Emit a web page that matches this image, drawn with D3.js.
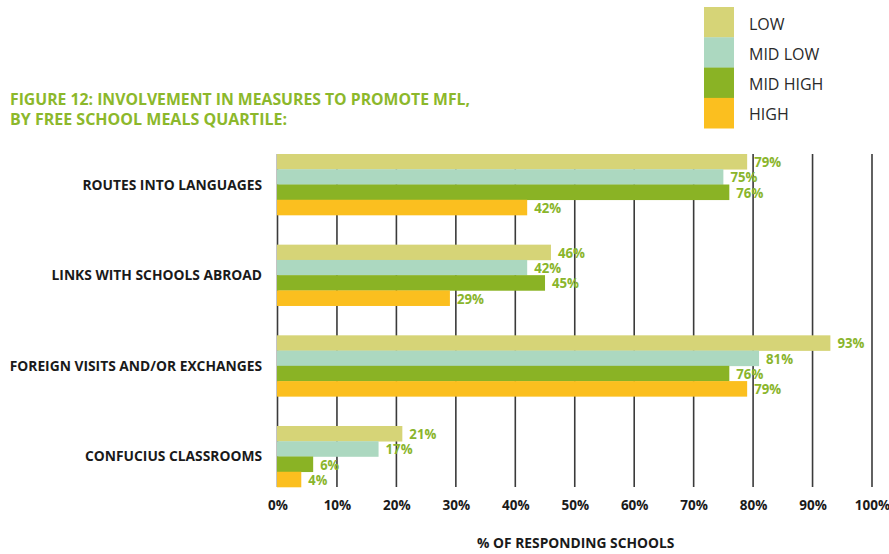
<!DOCTYPE html>
<html>
<head>
<meta charset="utf-8">
<script src="https://cdn.jsdelivr.net/npm/d3@7"></script>
<style>
  body { margin: 0; background: #fff; }
  svg { display: block; font-family: "Open Sans", sans-serif; }
</style>
</head>
<body>
<svg id="chart" width="889" height="554"></svg>
<script>
const categories = ["ROUTES INTO LANGUAGES", "LINKS WITH SCHOOLS ABROAD", "FOREIGN VISITS AND/OR EXCHANGES", "CONFUCIUS CLASSROOMS"];
const seriesNames = ["LOW", "MID LOW", "MID HIGH", "HIGH"];
const lowValues = [79, 46, 93, 21];
const midLowValues = [75, 42, 81, 17];
const midHighValues = [76, 45, 76, 6];
const highValues = [42, 29, 79, 4];
const tickValues = [0, 10, 20, 30, 40, 50, 60, 70, 80, 90, 100];
const colors = ["#d6d477", "#acd8c0", "#8ab325", "#fbbf1f"];
const titleLines = ["FIGURE 12: INVOLVEMENT IN MEASURES TO PROMOTE MFL,", "BY FREE SCHOOL MEALS QUARTILE:"];
const axisTitle = "% OF RESPONDING SCHOOLS";

const seriesValues = [lowValues, midLowValues, midHighValues, highValues];
const svg = d3.select("#chart");

const x = d3.scaleLinear().domain([0, 100]).range([277.5, 872]);
const y0 = d3.scaleBand().domain(categories).range([154, 487]).paddingInner(0.327).paddingOuter(0);
const y1 = d3.scaleBand().domain(seriesNames).range([0, y0.bandwidth()]).padding(0);

// gridlines
svg.append("g").selectAll("line").data(tickValues).join("line")
  .attr("x1", d => x(d)).attr("x2", d => x(d))
  .attr("y1", 154).attr("y2", 487)
  .attr("stroke", "#3a3a3a").attr("stroke-width", 1.6);

// bars
const groups = svg.append("g").selectAll("g").data(categories).join("g")
  .attr("transform", d => `translate(0,${y0(d)})`);

groups.selectAll("rect").data((c, i) => seriesNames.map((s, j) => ({s, j, v: seriesValues[j][i]})))
  .join("rect")
  .attr("x", x(0) - 0.5)
  .attr("y", d => y1(d.s))
  .attr("width", d => x(d.v) - x(0) + 0.5)
  .attr("height", y1.bandwidth() + 0.3)
  .attr("fill", d => colors[d.j]);

groups.selectAll("text.val").data((c, i) => seriesNames.map((s, j) => ({s, j, v: seriesValues[j][i]})))
  .join("text").attr("class", "val")
  .attr("x", d => x(d.v) + 7)
  .attr("y", d => y1(d.s) + y1.bandwidth() / 2 + 5.5)
  .attr("fill", "#8ab52c")
  .attr("font-weight", 700)
  .attr("font-size", 14)
  .attr("textLength", 27).attr("lengthAdjust", "spacingAndGlyphs")
  .each(function(d) { if (d.v < 10) d3.select(this).attr("textLength", 19); })
  .text(d => d.v + "%");

// category labels
svg.append("g").selectAll("text").data(categories).join("text")
  .attr("x", 262)
  .attr("y", d => y0(d) + y0.bandwidth() / 2 + 5)
  .attr("text-anchor", "end")
  .attr("fill", "#1a1a1a")
  .attr("font-weight", 700)
  .attr("font-size", 13.8)
  .text(d => d);

// x axis
const axis = d3.axisBottom(x).tickValues(tickValues).tickFormat(d => d + "%").tickSize(0).tickPadding(0);
const ax = svg.append("g").attr("transform", "translate(0,500)").call(axis);
ax.select(".domain").remove();
ax.selectAll("text").attr("font-family", "Open Sans").attr("font-size", 13.5).attr("font-weight", 700).attr("fill", "#1a1a1a");

svg.append("text").attr("x", x(50) + 1).attr("y", 548).attr("text-anchor", "middle")
  .attr("font-size", 13.8).attr("font-weight", 700).attr("fill", "#1a1a1a").text(axisTitle);

// title
svg.append("g").selectAll("text").data(titleLines).join("text")
  .attr("x", 10).attr("y", (d, i) => 104.5 + i * 20.5)
  .attr("fill", "#8cb82b").attr("font-weight", 700).attr("font-size", 16)
  .attr("textLength", (d, i) => i === 0 ? 460 : 277).attr("lengthAdjust", "spacingAndGlyphs")
  .text(d => d);

// legend
const leg = svg.append("g").selectAll("g").data(seriesNames).join("g")
  .attr("transform", (d, i) => `translate(704,${7 + i * 30.3})`);
leg.append("rect").attr("width", 30).attr("height", 30.6).attr("fill", (d, i) => colors[i]);
leg.append("text").attr("x", 45).attr("y", 22.5).attr("font-size", 16).attr("fill", "#2a2a2a").text(d => d);
</script>
</body>
</html>
